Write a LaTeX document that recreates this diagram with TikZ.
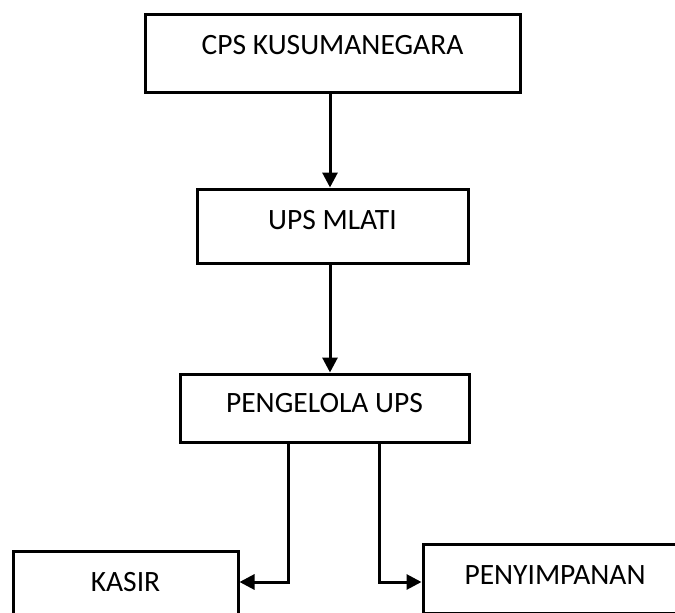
\documentclass[tikz,border=0pt]{standalone}
\usepackage{fontspec}
\setmainfont{Carlito}
\usetikzlibrary{arrows.meta}
\tikzset{
  unitbox/.style={draw, line width=3pt, inner sep=0pt, text height=19pt,
    font=\fontsize{29.5}{35}\selectfont},
  arr/.style={-{Triangle[length=15pt,width=15pt]}, line width=3pt}
}
\begin{document}
\begin{tikzpicture}[x=1pt, y=-1pt]
  \clip (0,0) rectangle (675,613);
  % Boxes
  \node[unitbox, minimum width=375pt, minimum height=78pt, text depth=17pt] (cps) at (332.5, 53) {CPS KUSUMANEGARA};
  \node[unitbox, minimum width=271pt, minimum height=74pt, text depth=13pt] (ups) at (332.5, 226) {UPS MLATI};
  \node[unitbox, minimum width=289pt, minimum height=68pt, text depth=11pt] (pengelola) at (324.5, 408) {PENGELOLA UPS};
  \node[unitbox, minimum width=225pt, minimum height=74pt, text depth=13pt] (kasir) at (125.5, 588) {KASIR};
  \node[unitbox, minimum width=264pt, minimum height=69pt, text depth=8pt] (simpan) at (555, 578.5) {PENYIMPANAN};
  % Arrows
  \draw[arr] ([xshift=-2.5pt]cps.south) -- ([xshift=-2.5pt]cps.south |- ups.north);
  \draw[arr] ([xshift=-2.5pt]ups.south) -- ([xshift=-2.5pt]ups.south |- pengelola.north);
  \draw[arr] ([xshift=-36.5pt]pengelola.south) |- ([yshift=6pt]kasir.east);
  \draw[arr] ([xshift=54.5pt]pengelola.south) |- ([yshift=-3.5pt]simpan.west);
\end{tikzpicture}
\end{document}
